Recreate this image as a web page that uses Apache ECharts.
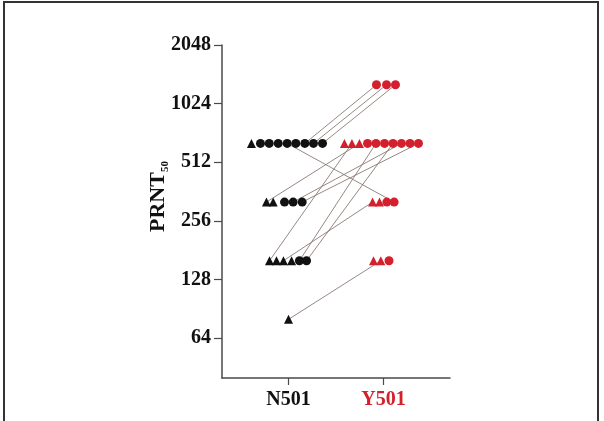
<!DOCTYPE html>
<html>
<head>
<meta charset="utf-8">
<script src="https://cdn.jsdelivr.net/npm/echarts@6/dist/echarts.min.js"></script>
<style>
html,body{margin:0;padding:0;background:#fff;}
#chart{width:604px;height:421px;}
</style>
</head>
<body>
<div id="chart"></div>
<script>
// Categories and tick labels
const categories = ['N501', 'Y501'];
const categoryPositions = [1, 2];
const yTicks = [64, 128, 256, 512, 1024, 2048];

// Points: [x position (category 1 = N501, 2 = Y501, with jitter), PRNT50 titer]
const n501Triangles = [[0.61, 640], [0.768, 320], [0.839, 320], [0.80, 160], [0.874, 160], [0.947, 160], [1.032, 160], [1.0, 80]];
const n501Circles = [[0.705, 640], [0.797, 640], [0.892, 640], [0.986, 640], [1.077, 640], [1.172, 640], [1.263, 640], [1.358, 640],
                     [0.958, 320], [1.049, 320], [1.144, 320], [1.115, 160], [1.19, 160]];
const y501Triangles = [[1.589, 640], [1.668, 640], [1.747, 640], [1.885, 320], [1.958, 320], [1.895, 160], [1.972, 160]];
const y501Circles = [[1.926, 1280], [2.032, 1280], [2.126, 1280],
                     [1.832, 640], [1.921, 640], [2.011, 640], [2.1, 640], [2.189, 640], [2.279, 640], [2.368, 640],
                     [2.035, 320], [2.112, 320], [2.058, 160]];

// Paired samples: [N501 point, Y501 point]
const pairs = [
  [[1.172, 640], [1.926, 1280]],
  [[1.263, 640], [2.032, 1280]],
  [[1.358, 640], [2.126, 1280]],
  [[0.986, 640], [2.112, 320]],
  [[0.768, 320], [1.747, 640]],
  [[1.049, 320], [2.189, 640]],
  [[1.144, 320], [2.368, 640]],
  [[0.80, 160], [1.668, 640]],
  [[0.947, 160], [1.885, 320]],
  [[1.115, 160], [1.921, 640]],
  [[1.19, 160], [2.1, 640]],
  [[1.0, 80], [1.972, 160]]
];

const BLACK = '#111111';
const RED = '#d3202c';
const FONT = '"Liberation Serif", "DejaVu Serif", serif';

const chart = echarts.init(document.getElementById('chart'));
chart.setOption({
  animation: false,
  backgroundColor: '#ffffff',
  grid: { left: 222, top: 45, width: 228, height: 333, containLabel: false },
  xAxis: {
    type: 'value', min: 0.3, max: 2.7,
    splitLine: { show: false },
    axisLine: { show: true, lineStyle: { color: '#4a4a4a', width: 1.5 } },
    axisTick: { show: true, customValues: categoryPositions, length: 7, lineStyle: { color: '#4a4a4a', width: 1.2 } },
    axisLabel: {
      customValues: categoryPositions, margin: 12,
      formatter: function (v) {
        const i = categoryPositions.indexOf(v);
        return i === 0 ? '{n|' + categories[0] + '}' : (i === 1 ? '{y|' + categories[1] + '}' : '');
      },
      rich: {
        n: { color: BLACK, fontFamily: FONT, fontWeight: 'bold', fontSize: 20 },
        y: { color: RED, fontFamily: FONT, fontWeight: 'bold', fontSize: 20 }
      }
    }
  },
  yAxis: {
    type: 'log', logBase: 2, min: 40, max: 2048,
    splitLine: { show: false },
    axisLine: { show: true, lineStyle: { color: '#4a4a4a', width: 1.5 } },
    axisTick: { show: true, customValues: yTicks, length: 8, lineStyle: { color: '#4a4a4a', width: 1.2 } },
    axisLabel: {
      customValues: yTicks, margin: 11,
      formatter: function (v) { return String(Math.round(v)); },
      color: BLACK, fontFamily: FONT, fontWeight: 'bold', fontSize: 20
    }
  },
  graphic: [
    {
      type: 'rect', silent: true, z: 100,
      shape: { x: 4, y: 2, width: 594, height: 440 },
      style: { fill: 'none', stroke: '#333', lineWidth: 2 }
    },
    {
      type: 'text', silent: true,
      x: 146, y: 232, rotation: Math.PI / 2,
      style: {
        text: '{m|PRNT}{s|50}',
        rich: {
          m: { fill: BLACK, fontFamily: FONT, fontWeight: 'bold', fontSize: 22 },
          s: { fill: BLACK, fontFamily: FONT, fontWeight: 'bold', fontSize: 11, padding: [14, 0, 0, 0] }
        }
      }
    }
  ],
  series: [
    {
      type: 'lines', coordinateSystem: 'cartesian2d', z: 1,
      lineStyle: { color: '#8a7b74', width: 0.9, opacity: 1 },
      data: pairs.map(p => ({ coords: p }))
    },
    { type: 'scatter', z: 3, symbol: 'triangle', symbolSize: 9, itemStyle: { color: BLACK, opacity: 1 }, data: n501Triangles },
    { type: 'scatter', z: 3, symbol: 'circle', symbolSize: 9, itemStyle: { color: BLACK, opacity: 1 }, data: n501Circles },
    { type: 'scatter', z: 3, symbol: 'triangle', symbolSize: 9, itemStyle: { color: RED, opacity: 1 }, data: y501Triangles },
    { type: 'scatter', z: 3, symbol: 'circle', symbolSize: 9, itemStyle: { color: RED, opacity: 1 }, data: y501Circles }
  ]
});
</script>
</body>
</html>
